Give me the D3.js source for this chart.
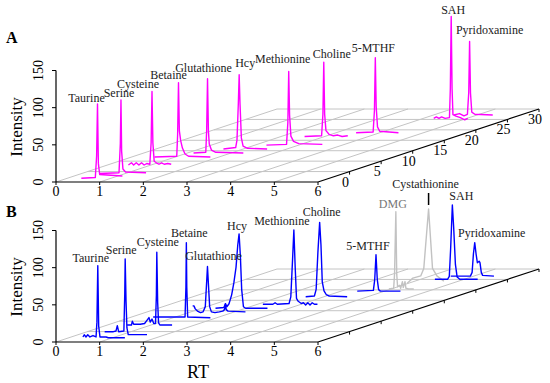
<!DOCTYPE html>
<html>
<head>
<meta charset="utf-8">
<script src="https://cdn.jsdelivr.net/npm/d3@7"></script>
<style>
body { margin: 0; background: #fff; }
svg { display: block; }
text { font-family: "Liberation Serif", "Times New Roman", serif; }
</style>
</head>
<body>
<div id="chart"></div>
<script>
"use strict";

// axis ticks
const rtTicks = [0, 1, 2, 3, 4, 5, 6];
const intensityTicks = [0, 50, 100, 150];
const depthTicks = [0, 5, 10, 15, 20, 25, 30];

// panel A: standards, [RT, intensity] pairs per compound
const namesA = ["Taurine", "Serine", "Cysteine", "Betaine", "Glutathione", "Hcy",
    "Methionine", "Choline", "5-MTHF", "SAH", "Pyridoxamine"];
const depthA = [-3.2, -0.9, 3.15, 7, 8.9, 10.8, 12.7, 16.8, 18.6, 25.5, 27.1];
const tracesA = [
    [[0.32,0],[0.64,1],[0.67,30],[0.69,100],[0.71,20],[0.74,5],[1.0,4],[1.26,3]],
    [[0.40,0],[0.85,1],[0.88,40],[0.895,99],[0.91,30],[0.94,6],[1.0,2],[1.47,1]],
    [[0.48,0],[0.55,3],[0.6,0],[0.66,3],[0.72,0],[0.78,3],[0.84,0],[0.9,2],[0.97,1],[1.0,30],[1.02,99],[1.04,30],[1.07,5],[1.12,3],[1.18,1],[1.24,3],[1.3,1],[1.38,2],[1.46,1]],
    [[0.52,0],[1.03,1],[1.05,30],[1.07,100],[1.09,35],[1.12,22],[1.16,12],[1.22,4],[1.3,1],[1.8,0]],
    [[1.14,0],[1.42,1],[1.44,30],[1.46,100],[1.48,30],[1.5,12],[1.55,4],[1.65,1],[2.28,0]],
    [[1.55,0],[1.83,2],[1.86,12],[1.89,60],[1.91,100],[1.93,60],[1.96,15],[2.0,4],[2.1,1],[2.55,0]],
    [[2.26,0],[2.72,1],[2.75,30],[2.77,99],[2.79,40],[2.82,12],[2.88,5],[3.0,2],[3.54,1]],
    [[2.54,0],[2.93,1],[2.96,30],[2.98,100],[3.0,30],[3.03,8],[3.1,3],[3.2,1],[3.3,2],[3.4,0],[3.53,1]],
    [[3.46,0],[3.85,1],[3.88,30],[3.9,101],[3.92,35],[3.95,8],[4.0,2],[4.43,0]],
    [[4.24,0],[4.3,2],[4.36,0],[4.42,2],[4.5,0],[4.6,1],[4.62,40],[4.64,137],[4.66,40],[4.68,5],[4.75,3],[4.85,1],[4.95,-2],[5.02,0]],
    [[4.47,0],[4.6,2],[4.7,-1],[4.78,1],[4.81,30],[4.83,99],[4.85,30],[4.88,4],[4.95,1],[5.36,0]]
];

// panel B: sample
const namesB = ["Taurine", "Serine", "Cysteine", "Betaine", "Glutathione", "Hcy",
    "Methionine", "Choline", "5-MTHF", "DMG", "Cystathionine", "SAH", "Pyridoxamine"];
const depthB = [-2.6, -0.06, 3.15, 7, 9.1, 11.2, 13.1, 16.7, 19.4, 20.4, 24.2, 25.06, 26.6];
const tracesB = [
    [[0.27,0],[0.3,3],[0.34,0],[0.38,3],[0.43,0],[0.5,2],[0.57,0],[0.59,20],[0.61,96],[0.63,15],[0.66,0],[0.8,0],[0.85,-1],[1.23,-1]],
    [[0.40,0],[0.6,0],[0.66,1],[0.69,8],[0.72,0],[0.84,1],[0.86,50],[0.87,98],[0.89,40],[0.91,5],[0.94,-4],[1.37,-4]],
    [[0.45,0],[0.55,0],[0.57,5],[0.6,1],[0.75,1],[0.85,2],[0.9,6],[0.95,10],[0.98,4],[1.02,8],[1.06,2],[1.1,2],[1.12,40],[1.13,98],[1.15,30],[1.17,3],[1.2,0],[1.48,0]],
    [[0.49,0],[1.22,0],[1.24,40],[1.25,100],[1.26,40],[1.28,0],[1.8,-1]],
    [[1.09,9],[1.12,9],[1.15,5],[1.2,2],[1.27,0],[1.33,1],[1.38,8],[1.41,40],[1.43,62],[1.45,40],[1.48,8],[1.52,1],[1.6,0],[1.7,1],[1.78,2],[1.82,4],[1.84,12],[1.86,4],[1.9,2],[2.3,1]],
    [[1.31,0],[1.5,1],[1.54,6],[1.57,2],[1.62,6],[1.68,18],[1.73,34],[1.78,55],[1.82,85],[1.85,100],[1.88,70],[1.91,25],[1.95,2],[2.0,0],[2.5,0]],
    [[2.12,0],[2.35,0],[2.4,2],[2.45,0],[2.72,1],[2.76,10],[2.8,60],[2.83,100],[2.86,50],[2.89,8],[2.93,4],[3.0,1],[3.05,2],[3.1,-1],[3.15,2],[3.2,-1],[3.25,2],[3.3,0],[3.37,0]],
    [[2.58,0],[2.78,1],[2.82,10],[2.86,60],[2.9,100],[2.93,70],[2.96,20],[3.0,8],[3.05,3],[3.12,1],[3.53,0]],
    [[3.37,0],[3.74,1],[3.77,15],[3.8,49],[3.83,15],[3.86,2],[3.9,0],[4.36,0]],
    [[3.95,0],[4.06,1],[4.08,20],[4.11,104],[4.13,20],[4.15,3],[4.2,5],[4.22,1],[4.26,10],[4.28,2],[4.32,10],[4.34,1],[4.4,0],[4.52,0]],
    [[3.82,-3],[3.95,4],[4.13,7],[4.2,17],[4.31,97],[4.4,17],[4.5,7],[4.66,0]],
    [[4.33,0],[4.62,0],[4.66,4],[4.69,40],[4.73,100],[4.76,70],[4.8,20],[4.84,3],[4.9,0],[5.31,0]],
    [[4.47,0],[4.92,0],[4.96,5],[4.99,30],[5.02,45],[5.05,30],[5.08,18],[5.12,20],[5.14,18],[5.17,5],[5.2,1],[5.46,0]]
];
const greyB = ["DMG", "Cystathionine"];

// label offsets from each peak apex (px)
const labelOffA = [[-11,-2],[-2,-3],[-14,-3],[-10,-4],[-4,-7],[6,-8],[-6,-8],[8,-4],[-2,-6],[2,-3],[20,-7]];
const labelOffB = [[-7,-4],[-4,-5],[1,-6],[3,-6],[6,-7],[-2,-4],[-12,-5],[2,-6],[-8,-5],[-3,-4],[-3,-21],[9,-5],[17,-6]];

const width = 550;
const height = 383;

const svg = d3.select("#chart")
    .append("svg")
    .attr("width", width)
    .attr("height", height);

const x = d3.scaleLinear().domain([0, 6]).range([56, 318]);
const yk = d3.scaleLinear().domain([0, 150]).range([0, 111.5]);
const zs = d3.scaleLinear().domain([-5, 30]).range([0, 1]);
const depthDx = 221;
const depthDy = 73;

const gridColor = "#c4c4c4";

function drawPanel(base, letter, letterY, names, depths, traces, offsets, color, opts) {
    const g = svg.append("g");
    const proj = (rt, v, d) => [x(rt) + zs(d) * depthDx, base - yk(v) - zs(d) * depthDy];
    const line = d3.line();

    // floor grid
    for (let d of depthTicks) {
        g.append("path")
            .attr("d", line([proj(0, 0, d), proj(6, 0, d)]))
            .attr("stroke", gridColor).attr("stroke-width", 1).attr("fill", "none");
    }
    for (let t of rtTicks.slice(0, -1)) {
        g.append("path")
            .attr("d", line([proj(t, 0, -5), proj(t, 0, 30)]))
            .attr("stroke", gridColor).attr("stroke-width", 1).attr("fill", "none");
    }

    // chromatograms
    traces.forEach(function (pts, i) {
        const isGrey = opts.grey && opts.grey.includes(names[i]);
        g.append("path")
            .attr("d", line(pts.map(p => proj(p[0], p[1], depths[i]))))
            .attr("stroke", isGrey ? "#c2c2c2" : color)
            .attr("stroke-width", 1.4)
            .attr("stroke-linejoin", "round")
            .attr("fill", "none");
    });

    // RT axis
    g.append("path").attr("d", line([proj(0, 0, -5), proj(6, 0, -5)]))
        .attr("stroke", "#000").attr("stroke-width", 1.2);
    for (let t of rtTicks) {
        const p = proj(t, 0, -5);
        g.append("line").attr("x1", p[0]).attr("x2", p[0]).attr("y1", p[1]).attr("y2", p[1] + 3)
            .attr("stroke", "#000");
        g.append("text").attr("x", p[0]).attr("y", p[1] + 14)
            .attr("text-anchor", "middle").attr("font-size", 14).text(t);
    }

    // depth axis
    g.append("path").attr("d", line([proj(6, 0, -5), proj(6, 0, 30)]))
        .attr("stroke", "#000").attr("stroke-width", 1.2);
    for (let d of depthTicks) {
        const p = proj(6, 0, d);
        g.append("line").attr("x1", p[0]).attr("x2", p[0]).attr("y1", p[1]).attr("y2", p[1] + 3)
            .attr("stroke", "#000");
        if (opts.depthLabels) {
            g.append("text").attr("x", p[0] - 4).attr("y", p[1] + 15)
                .attr("text-anchor", "middle").attr("font-size", 14).text(d);
        }
    }

    // intensity axis
    g.append("line").attr("x1", x(0)).attr("x2", x(0))
        .attr("y1", base).attr("y2", base - yk(150))
        .attr("stroke", "#000").attr("stroke-width", 1.2);
    for (let v of intensityTicks) {
        const yy = base - yk(v);
        g.append("line").attr("x1", x(0) - 4).attr("x2", x(0)).attr("y1", yy).attr("y2", yy)
            .attr("stroke", "#000");
        g.append("text")
            .attr("transform", `translate(${x(0) - 13},${yy})rotate(-90)`)
            .attr("text-anchor", "middle").attr("font-size", 14).text(v);
    }
    g.append("text")
        .attr("transform", `translate(22,${base - 55})rotate(-90)`)
        .attr("text-anchor", "middle").attr("font-size", 17).text("Intensity");

    // panel letter
    g.append("text").attr("x", 6).attr("y", letterY)
        .attr("font-size", 16).attr("font-weight", "bold").text(letter);

    // compound labels at peak apex
    traces.forEach(function (pts, i) {
        const top = pts.reduce((a, b) => (b[1] > a[1] ? b : a));
        const p = proj(top[0], top[1], depths[i]);
        const isGrey = opts.grey && opts.grey.includes(names[i]);
        g.append("text")
            .attr("x", p[0] + offsets[i][0]).attr("y", p[1] + offsets[i][1])
            .attr("text-anchor", "middle").attr("font-size", 12)
            .attr("fill", isGrey && names[i] !== "Cystathionine" ? "#777" : "#222")
            .text(names[i]);
        if (names[i] === "Cystathionine") {
            g.append("line").attr("x1", p[0]).attr("x2", p[0])
                .attr("y1", p[1] - 16).attr("y2", p[1] - 4)
                .attr("stroke", "#000").attr("stroke-width", 1.5);
        }
    });

    if (opts.rtLabel) {
        g.append("text").attr("x", 198).attr("y", base + 36)
            .attr("text-anchor", "middle").attr("font-size", 18).text("RT");
    }
}

drawPanel(182, "A", 43, namesA, depthA, tracesA, labelOffA, "#ff00ff", { depthLabels: true });
drawPanel(342, "B", 217, namesB, depthB, tracesB, labelOffB, "#0000ff", { grey: greyB, rtLabel: true });
</script>
</body>
</html>
